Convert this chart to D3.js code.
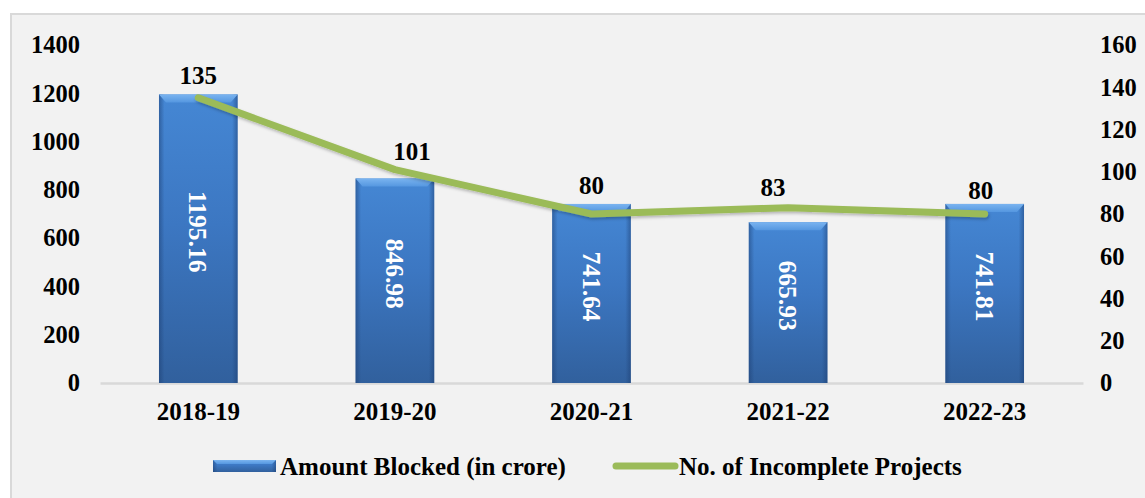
<!DOCTYPE html>
<html>
<head>
<meta charset="utf-8">
<script src="https://cdn.jsdelivr.net/npm/d3@7"></script>
<style>
  html, body { margin: 0; padding: 0; background: #ffffff; }
  svg { display: block; }
  text { font-family: "Liberation Serif", "Times New Roman", serif; font-weight: bold; }
</style>
</head>
<body>
<svg id="chart" width="1145" height="498"></svg>
<script>
// ---- data ----
const categories = ["2018-19", "2019-20", "2020-21", "2021-22", "2022-23"];
const amountBlocked = [1195.16, 846.98, 741.64, 665.93, 741.81];
const incompleteProjects = [135, 101, 80, 83, 80];
const leftTicks = [0, 200, 400, 600, 800, 1000, 1200, 1400];
const rightTicks = [0, 20, 40, 60, 80, 100, 120, 140, 160];
const seriesNames = ["Amount Blocked (in crore)", "No. of Incomplete Projects"];

// small manual nudges of the line labels (as in the original)
const labelDx = [0, 17, 0, -15, -4];
const labelDy = [-23, -18, -29, -20, -24];

const W = 1145, H = 498;
const svg = d3.select("#chart");
const plot = { left: 100, right: 1083, top: 45, bottom: 383 };
const FONT = '"Liberation Serif", "Times New Roman", serif';

const defs = svg.append("defs");
const gBar = defs.append("linearGradient").attr("id", "barGrad")
  .attr("x1", 0).attr("y1", 0).attr("x2", 0).attr("y2", 1);
gBar.append("stop").attr("offset", "0%").attr("stop-color", "#4587d4");
gBar.append("stop").attr("offset", "45%").attr("stop-color", "#3c77c2");
gBar.append("stop").attr("offset", "100%").attr("stop-color", "#31609d");
const gEdge = defs.append("linearGradient").attr("id", "edgeGrad")
  .attr("x1", 0).attr("y1", 0).attr("x2", 1).attr("y2", 0);
[[0, 0.5], [0.07, 0], [0.93, 0], [1, 0.5]].forEach(([o, a]) =>
  gEdge.append("stop").attr("offset", o).attr("stop-color", "#1c3d70").attr("stop-opacity", a));
const gTop = defs.append("linearGradient").attr("id", "topGrad")
  .attr("x1", 0).attr("y1", 0).attr("x2", 0).attr("y2", 1);
gTop.append("stop").attr("offset", "0%").attr("stop-color", "#7ab4f0");
gTop.append("stop").attr("offset", "100%").attr("stop-color", "#5597e0");
const shadow = defs.append("filter").attr("id", "lineShadow")
  .attr("x", "-10%").attr("y", "-50%").attr("width", "120%").attr("height", "200%");
shadow.append("feDropShadow").attr("dx", 1).attr("dy", 2).attr("stdDeviation", 1.5)
  .attr("flood-color", "#000").attr("flood-opacity", 0.25);

// background frame
svg.append("rect").attr("x", 11).attr("y", 14).attr("width", W + 20).attr("height", H + 20)
  .attr("fill", "#f2f2f2").attr("stroke", "#d9d9d9").attr("stroke-width", 2);

// scales
const x = d3.scaleBand().domain(categories).range([plot.left, plot.right]).padding(0);
const barW = x.bandwidth() * 0.4;
const yL = d3.scaleLinear().domain([0, 1400]).range([plot.bottom, plot.top]);
const yR = d3.scaleLinear().domain([0, 160]).range([plot.bottom, plot.top]);
const cx = c => x(c) + x.bandwidth() / 2;

function styleTicks(g, size) {
  g.selectAll("text").attr("font-size", size).attr("fill", "#000")
    .style("font-family", FONT).style("font-weight", "bold");
}

// axes
const axL = svg.append("g").attr("transform", `translate(${plot.left},0)`)
  .call(d3.axisLeft(yL).tickValues(leftTicks).tickSize(0).tickPadding(20).tickFormat(d3.format("d")));
axL.select(".domain").remove();
styleTicks(axL, 24.5);

const axR = svg.append("g").attr("transform", `translate(${plot.right},0)`)
  .call(d3.axisRight(yR).tickValues(rightTicks).tickSize(0).tickPadding(17).tickFormat(d3.format("d")));
axR.select(".domain").remove();
styleTicks(axR, 24.5);

const axB = svg.append("g").attr("transform", `translate(0,${plot.bottom})`)
  .call(d3.axisBottom(x).tickSize(0).tickPadding(19));
axB.select(".domain").attr("stroke", "#d9d9d9").attr("stroke-width", 2.5);
styleTicks(axB, 25);

// bars
const bars = svg.append("g").selectAll("g").data(categories).join("g");
bars.append("rect")
  .attr("x", c => cx(c) - barW / 2)
  .attr("y", (c, i) => yL(amountBlocked[i]))
  .attr("width", barW)
  .attr("height", (c, i) => yL(0) - yL(amountBlocked[i]))
  .attr("fill", "url(#barGrad)");
bars.append("rect")
  .attr("x", c => cx(c) - barW / 2)
  .attr("y", (c, i) => yL(amountBlocked[i]))
  .attr("width", barW)
  .attr("height", (c, i) => yL(0) - yL(amountBlocked[i]))
  .attr("fill", "url(#edgeGrad)");
bars.append("polygon")
  .attr("points", (c, i) => {
    const x0 = cx(c) - barW / 2, x1 = cx(c) + barW / 2, y0 = yL(amountBlocked[i]);
    return [[x0, y0], [x1, y0], [x1 - 7, y0 + 8], [x0 + 7, y0 + 8]].map(p => p.join(",")).join(" ");
  })
  .attr("fill", "url(#topGrad)");

// bar value labels (rotated)
bars.append("text")
  .attr("transform", (c, i) => {
    const ym = (yL(amountBlocked[i]) + yL(0)) / 2 - 7;
    return `translate(${cx(c)},${ym}) rotate(90)`;
  })
  .attr("text-anchor", "middle").attr("dy", "0.35em")
  .attr("font-size", 25.5).attr("fill", "#ffffff")
  .text((c, i) => amountBlocked[i].toFixed(2));

// line
const line = d3.line().x((d, i) => cx(categories[i])).y(d => yR(d));
svg.append("path").datum(incompleteProjects)
  .attr("d", line).attr("fill", "none").attr("stroke", "#9bbb59")
  .attr("stroke-width", 7).attr("stroke-linejoin", "round").attr("stroke-linecap", "round")
  .attr("filter", "url(#lineShadow)");

// line labels
svg.append("g").selectAll("text").data(incompleteProjects).join("text")
  .attr("x", (d, i) => cx(categories[i]) + labelDx[i])
  .attr("y", (d, i) => yR(d) + labelDy[i])
  .attr("dy", "0.35em").attr("text-anchor", "middle")
  .attr("font-size", 25).attr("fill", "#000")
  .text(d => d);

// legend
const lg = svg.append("g");
const ly = 466;
lg.append("rect").attr("x", 213).attr("y", ly - 6).attr("width", 63).attr("height", 12).attr("fill", "url(#barGrad)");
lg.append("rect").attr("x", 213).attr("y", ly - 6).attr("width", 63).attr("height", 12).attr("fill", "url(#edgeGrad)");
lg.append("polygon").attr("points", `213,${ly - 6} 276,${ly - 6} 272,${ly - 2} 217,${ly - 2}`).attr("fill", "url(#topGrad)");
lg.append("text").attr("x", 280).attr("y", ly).attr("dy", "0.35em")
  .attr("font-size", 25).attr("fill", "#000").text(seriesNames[0]);
lg.append("line").attr("x1", 616).attr("x2", 675).attr("y1", ly).attr("y2", ly)
  .attr("stroke", "#9bbb59").attr("stroke-width", 7).attr("stroke-linecap", "round");
lg.append("text").attr("x", 679).attr("y", ly).attr("dy", "0.35em")
  .attr("font-size", 25).attr("fill", "#000").text(seriesNames[1]);
</script>
</body>
</html>
